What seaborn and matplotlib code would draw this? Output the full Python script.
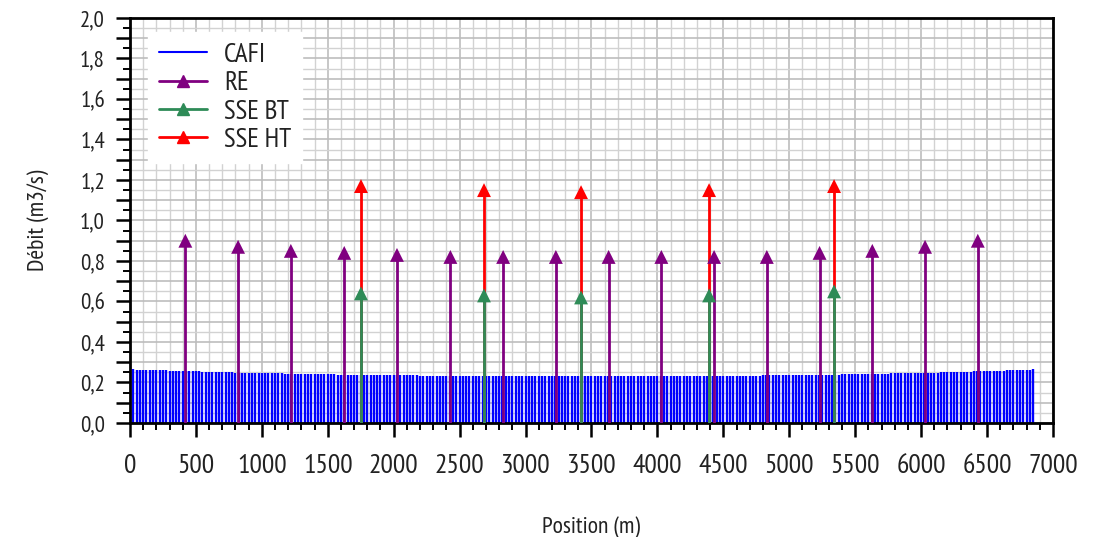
import numpy as np
import pandas as pd
import matplotlib
matplotlib.use('Agg')
import matplotlib.pyplot as plt
import seaborn as sns
from matplotlib.ticker import MultipleLocator, FuncFormatter
from matplotlib.lines import Line2D


# CAFI: one stem every 25 m
cafi_step = 25
cafi_flow = [
    0.265, 0.265, 0.264, 0.264, 0.263, 0.263, 0.262, 0.262, 0.261, 0.261,
    0.260, 0.260, 0.259, 0.259, 0.258, 0.258, 0.257, 0.257, 0.256, 0.256,
    0.255, 0.255, 0.254, 0.254, 0.253, 0.253, 0.252, 0.252, 0.251, 0.251,
    0.250, 0.250, 0.249, 0.249, 0.249, 0.248, 0.248, 0.248, 0.247, 0.247,
    0.247, 0.246, 0.246, 0.246, 0.245, 0.245, 0.245, 0.244, 0.244, 0.244,
    0.243, 0.243, 0.243, 0.242, 0.242, 0.242, 0.241, 0.241, 0.241, 0.240,
    0.240, 0.240, 0.240, 0.239, 0.239, 0.239, 0.239, 0.238, 0.238, 0.238,
    0.238, 0.237, 0.237, 0.237, 0.237, 0.237, 0.236, 0.236, 0.236, 0.236,
    0.236, 0.236, 0.235, 0.235, 0.235, 0.235, 0.235, 0.235, 0.234, 0.234,
    0.234, 0.234, 0.234, 0.234, 0.234, 0.233, 0.233, 0.233, 0.233, 0.233,
    0.233, 0.233, 0.233, 0.233, 0.233, 0.233, 0.232, 0.232, 0.232, 0.232,
    0.232, 0.232, 0.232, 0.232, 0.232, 0.232, 0.232, 0.232, 0.232, 0.232,
    0.232, 0.232, 0.232, 0.232, 0.232, 0.232, 0.232, 0.232, 0.232, 0.232,
    0.232, 0.232, 0.232, 0.232, 0.232, 0.232, 0.232, 0.232, 0.232, 0.232,
    0.232, 0.232, 0.232, 0.232, 0.232, 0.232, 0.232, 0.232, 0.232, 0.232,
    0.232, 0.232, 0.232, 0.232, 0.232, 0.232, 0.232, 0.232, 0.232, 0.232,
    0.232, 0.232, 0.232, 0.232, 0.232, 0.232, 0.232, 0.232, 0.232, 0.232,
    0.232, 0.232, 0.233, 0.233, 0.233, 0.233, 0.233, 0.233, 0.233, 0.233,
    0.233, 0.233, 0.233, 0.233, 0.233, 0.234, 0.234, 0.234, 0.234, 0.234,
    0.234, 0.234, 0.235, 0.235, 0.235, 0.235, 0.235, 0.235, 0.236, 0.236,
    0.236, 0.236, 0.236, 0.237, 0.237, 0.237, 0.237, 0.237, 0.238, 0.238,
    0.238, 0.238, 0.239, 0.239, 0.239, 0.239, 0.240, 0.240, 0.240, 0.241,
    0.241, 0.241, 0.242, 0.242, 0.242, 0.243, 0.243, 0.243, 0.244, 0.244,
    0.244, 0.245, 0.245, 0.245, 0.246, 0.246, 0.246, 0.247, 0.247, 0.247,
    0.248, 0.248, 0.248, 0.249, 0.249, 0.249, 0.250, 0.250, 0.251, 0.251,
    0.252, 0.252, 0.253, 0.253, 0.254, 0.254, 0.255, 0.255, 0.256, 0.256,
    0.257, 0.257, 0.258, 0.258, 0.259, 0.259, 0.260, 0.261, 0.261, 0.262,
    0.262, 0.263, 0.264, 0.264, 0.265,
]
cafi_pos = np.arange(len(cafi_flow)) * cafi_step

re_pos = [420, 820, 1220, 1625, 2025, 2430, 2830, 3230,
          3630, 4030, 4430, 4830, 5230, 5630, 6030, 6430]
re_flow = [0.90, 0.87, 0.85, 0.84, 0.83, 0.82, 0.82, 0.82,
           0.82, 0.82, 0.82, 0.82, 0.84, 0.85, 0.87, 0.90]

sse_pos = [1752, 2685, 3421, 4392, 5340]
sse_ht_flow = [1.17, 1.15, 1.14, 1.15, 1.17]
sse_bt_flow = [0.64, 0.63, 0.62, 0.63, 0.65]

c_cafi = '#0000ff'
c_re = '#800080'
c_bt = '#2e8b57'
c_ht = '#ff0000'
c_txt = '#222222'

sns.set_theme(style='white')
plt.rcParams['font.family'] = ['PT Sans Narrow', 'Open Sans', 'DejaVu Sans']

fig = plt.figure(figsize=(10.95, 5.37), dpi=100)
ax = fig.add_axes([0.1187, 0.2123, 0.8429, 0.7542])

# grid
ax.xaxis.set_major_locator(MultipleLocator(500))
ax.xaxis.set_minor_locator(MultipleLocator(100))
ax.yaxis.set_major_locator(MultipleLocator(0.1))
ax.yaxis.set_minor_locator(MultipleLocator(0.05))
ax.grid(which='major', color='#bdbdbd', linewidth=1.2, zorder=0)
ax.grid(which='minor', color='#d2d2d2', linewidth=1.0, zorder=0)
ax.set_axisbelow(True)

# CAFI stems
ax.vlines(cafi_pos, 0, cafi_flow, color=c_cafi, linewidth=1.7, zorder=2)

# RE and SSE stems
ax.vlines(re_pos, 0, re_flow, color=c_re, linewidth=2, zorder=3)
ax.vlines(sse_pos, 0, sse_ht_flow, color=c_ht, linewidth=2, zorder=3)
ax.vlines(sse_pos, 0, sse_bt_flow, color=c_bt, linewidth=2, zorder=4)

re_df = pd.DataFrame({'pos': re_pos, 'flow': re_flow})
ht_df = pd.DataFrame({'pos': sse_pos, 'flow': sse_ht_flow})
bt_df = pd.DataFrame({'pos': sse_pos, 'flow': sse_bt_flow})
sns.scatterplot(data=re_df, x='pos', y='flow', marker='^', s=100,
                color=c_re, edgecolor='none', ax=ax, zorder=5)
sns.scatterplot(data=ht_df, x='pos', y='flow', marker='^', s=100,
                color=c_ht, edgecolor='none', ax=ax, zorder=5)
sns.scatterplot(data=bt_df, x='pos', y='flow', marker='^', s=100,
                color=c_bt, edgecolor='none', ax=ax, zorder=6)

ax.set_xlim(0, 7000)
ax.set_ylim(0, 2.0)


def fmt_y(v, _):
    k = int(round(v * 10))
    if k % 2:
        return ''
    return f'{v:.1f}'.replace('.', ',')


ax.yaxis.set_major_formatter(FuncFormatter(fmt_y))
ax.xaxis.set_major_formatter(FuncFormatter(lambda v, _: f'{int(v)}'))

ax.tick_params(axis='both', which='major', direction='out', length=10,
               width=1.8, color='black', labelcolor=c_txt,
               bottom=True, left=True)
ax.tick_params(axis='both', which='minor', direction='out', length=5,
               width=1.4, color='black', bottom=True, left=True)
ax.tick_params(axis='x', which='major', pad=12, labelsize=20)
ax.tick_params(axis='y', which='major', pad=8, labelsize=16.5)

for sp in ax.spines.values():
    sp.set_color('black')
    sp.set_linewidth(2)

ax.set_xlabel('Position (m)', fontsize=17, color=c_txt, labelpad=28)
ax.set_ylabel('Débit (m3/s)', fontsize=17, color=c_txt, labelpad=22)

handles = [
    Line2D([], [], color=c_cafi, linewidth=1.5),
    Line2D([], [], color=c_re, linewidth=2, marker='^', markersize=9),
    Line2D([], [], color=c_bt, linewidth=2, marker='^', markersize=9),
    Line2D([], [], color=c_ht, linewidth=2, marker='^', markersize=9),
]
leg = ax.legend(handles, ['CAFI', 'RE', 'SSE BT', 'SSE HT'],
                loc='upper left', bbox_to_anchor=(0.02, 0.9654),
                borderaxespad=0, frameon=True, fancybox=False, framealpha=1,
                edgecolor='white', fontsize=19.5, handlelength=1.75,
                handletextpad=0.65, labelspacing=0.16, borderpad=0.4)
for t in leg.get_texts():
    t.set_color(c_txt)

fig.savefig('out.png', dpi=100)
